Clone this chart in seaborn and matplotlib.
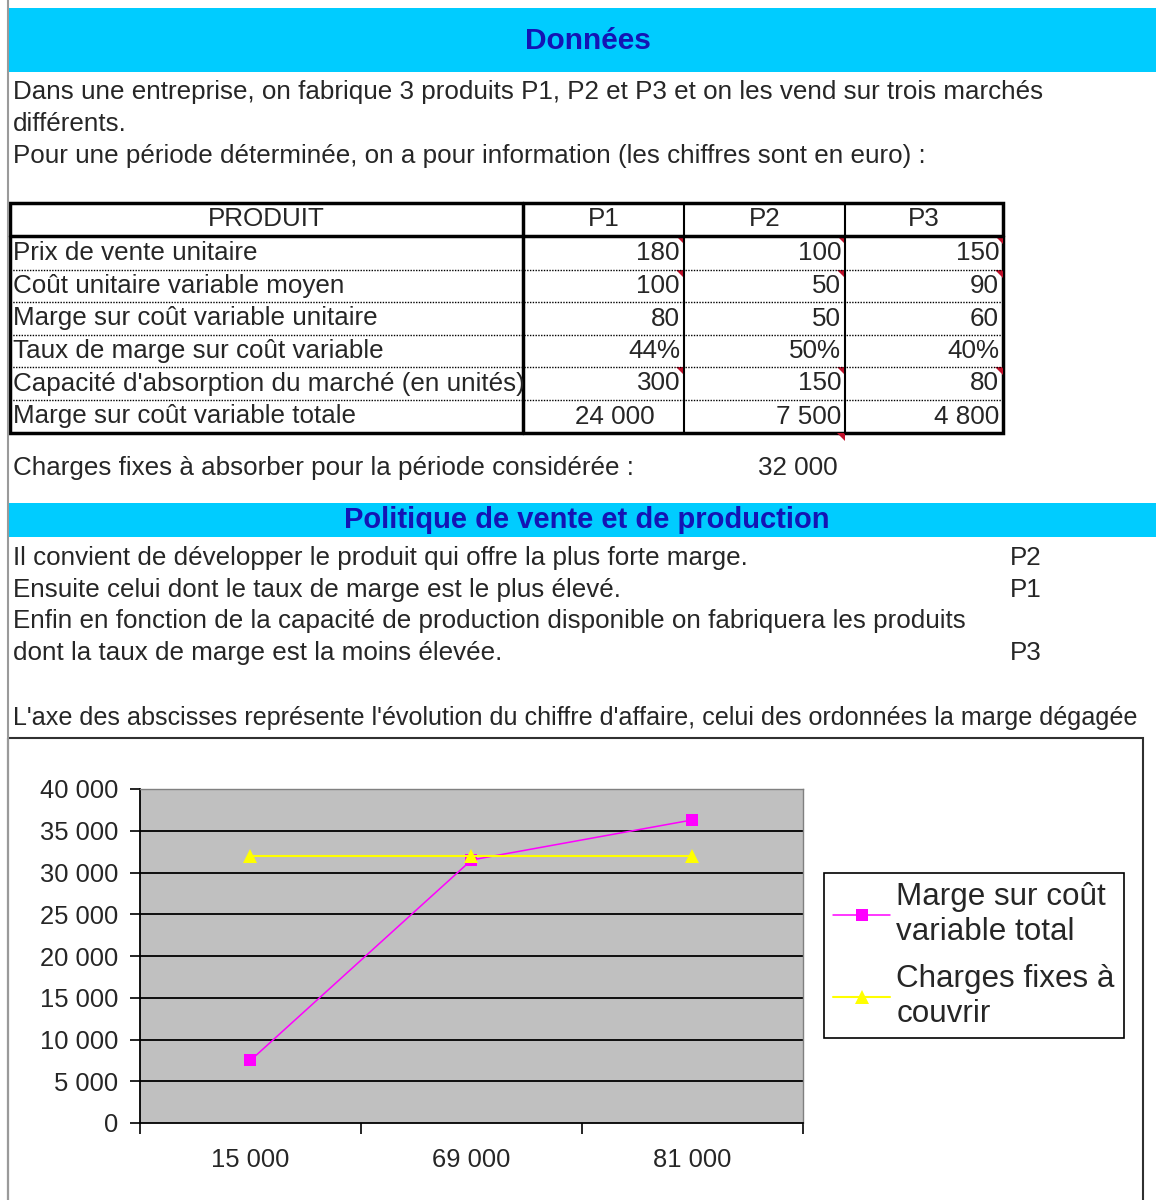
import numpy as np
import pandas as pd
import matplotlib
matplotlib.use("Agg")
import matplotlib.pyplot as plt
import seaborn as sns
from matplotlib.patches import Rectangle, Polygon
from matplotlib.ticker import FuncFormatter

sns.set_theme(style="white")
plt.rcParams['font.family'] = ['Liberation Sans', 'DejaVu Sans']

# ---------------- data ----------------
PRODUITS = ["P1", "P2", "P3"]
ROW_LABELS = ["Prix de vente unitaire",
              "Coût unitaire variable moyen",
              "Marge sur coût variable unitaire",
              "Taux de marge sur coût variable",
              "Capacité d'absorption du marché (en unités)",
              "Marge sur coût variable totale"]
PRIX = [180, 100, 150]
COUT = [100, 50, 90]
MARGE_U = [80, 50, 60]
TAUX = ["44%", "50%", "40%"]
CAPACITE = [300, 150, 80]
MARGE_TOT = [24000, 7500, 4800]
CHARGES_FIXES = 32000
INTRO = ["Dans une entreprise, on fabrique 3 produits P1, P2 et P3 et on les vend sur trois marchés",
         "différents.",
         "Pour une période déterminée, on a pour information (les chiffres sont en euro) :"]
POLITIQUE = ["Il convient de développer le produit qui offre la plus forte marge.",
             "Ensuite celui dont le taux de marge est le plus élevé.",
             "Enfin en fonction de la capacité de production disponible on fabriquera les produits",
             "dont la taux de marge est la moins élevée."]
ORDRE = ["P2", "P1", "", "P3"]
AXE_TXT = "L'axe des abscisses représente l'évolution du chiffre d'affaire, celui des ordonnées la marge dégagée"
CA_LABELS = ["15 000", "69 000", "81 000"]
MARGE_CUMUL = [7500, 31500, 36300]
CHARGES_SERIE = [32000, 32000, 32000]
SERIES = ["Marge sur coût\nvariable total", "Charges fixes à\ncouvrir"]


def fmt(v):
    return f"{v:,}".replace(",", " ")


W, H = 1156, 1200
fig = plt.figure(figsize=(W / 100, H / 100), dpi=100)
bg = fig.add_axes([0, 0, 1, 1])
bg.set_xlim(0, W)
bg.set_ylim(H, 0)
bg.axis("off")

BLUE = "#00CCFF"
NAVY = "#1414B4"
FS = 18.7

# left sheet border
bg.plot([8, 8], [0, H], color="#9a9a9a", lw=1.5)

# header bar
bg.add_patch(Rectangle((8, 8), W - 8, 64, color=BLUE, lw=0))
bg.text(588, 41, "Données", ha="center", va="center", fontsize=21.5,
        fontweight="bold", color=NAVY)

for i, t in enumerate(INTRO):
    bg.text(13, 92 + 32 * i, t, ha="left", va="center", fontsize=FS)

# table
cols = [10, 523, 684, 845, 1003]
rows = [203, 236, 270, 302, 335, 367, 400, 433]
bg.add_patch(Rectangle((cols[0], rows[0]), cols[-1] - cols[0], rows[-1] - rows[0],
                       fill=False, ec="black", lw=2.5))
bg.plot([cols[1], cols[1]], [rows[0], rows[-1]], color="black", lw=2.5)
for c in cols[2:4]:
    bg.plot([c, c], [rows[0], rows[-1]], color="black", lw=1.5)
bg.plot([cols[0], cols[-1]], [rows[1], rows[1]], color="black", lw=2.5)
for r in rows[2:-1]:
    bg.plot([cols[0], cols[-1]], [r, r], color="black", lw=1, ls=(0, (1, 1)))

bg.text((cols[0] + cols[1]) / 2, (rows[0] + rows[1]) / 2, "PRODUIT",
        ha="center", va="center", fontsize=FS)
for j, p in enumerate(PRODUITS):
    bg.text((cols[j + 1] + cols[j + 2]) / 2, (rows[0] + rows[1]) / 2, p,
            ha="center", va="center", fontsize=FS)

table_vals = [[str(v) for v in PRIX], [str(v) for v in COUT],
              [str(v) for v in MARGE_U], TAUX,
              [str(v) for v in CAPACITE], [fmt(v) for v in MARGE_TOT]]
for i, lab in enumerate(ROW_LABELS):
    yc = (rows[i + 1] + rows[i + 2]) / 2
    bg.text(13, yc, lab, ha="left", va="center", fontsize=FS)
    for j in range(3):
        xr = cols[j + 2] - 4
        if i == 5 and j == 0:
            xr = 655
        bg.text(xr, yc, table_vals[i][j], ha="right", va="center", fontsize=FS)

# red comment markers
tri = 8
for r in [rows[1], rows[2], rows[5]]:
    for c in cols[2:]:
        bg.add_patch(Polygon([[c - tri, r], [c, r], [c, r + tri]], closed=True,
                             color="#c0102a", lw=0))
bg.add_patch(Polygon([[cols[3] - tri, rows[-1]], [cols[3], rows[-1]],
                      [cols[3], rows[-1] + tri]], closed=True, color="#c0102a", lw=0))

bg.text(13, 468, "Charges fixes à absorber pour la période considérée :",
        ha="left", va="center", fontsize=FS)
bg.text(838, 468, fmt(CHARGES_FIXES), ha="right", va="center", fontsize=FS)

# second bar
bg.add_patch(Rectangle((8, 503), W - 8, 34, color=BLUE, lw=0))
bg.text(587, 520, "Politique de vente et de production", ha="center", va="center",
        fontsize=21, fontweight="bold", color=NAVY)

for i, (t, p) in enumerate(zip(POLITIQUE, ORDRE)):
    y = [558, 590, 621, 653][i]
    bg.text(13, y, t, ha="left", va="center", fontsize=FS)
    if p:
        bg.text(1010, y, p, ha="left", va="center", fontsize=FS)

bg.text(13, 718, AXE_TXT, ha="left", va="center", fontsize=18.1)

# chart frame
bg.add_patch(Rectangle((8, 738), 1135, 500, fill=False, ec="#303030", lw=1.5))

# ---------------- chart ----------------
L, R, T, B = 140, 803, 789, 1123
ax = fig.add_axes([L / W, 1 - B / H, (R - L) / W, (B - T) / H])
ax.set_facecolor("#C0C0C0")
xpos = np.arange(len(CA_LABELS))
df = pd.DataFrame({"x": np.concatenate([xpos, xpos]),
                   "y": MARGE_CUMUL + CHARGES_SERIE,
                   "serie": [SERIES[0]] * 3 + [SERIES[1]] * 3})

sns.lineplot(data=df[df.serie == SERIES[0]], x="x", y="y", ax=ax, color="#FF00FF",
             marker="s", markersize=8, markeredgewidth=0, lw=1.1, sort=False,
             label=SERIES[0], zorder=3)
sns.lineplot(data=df[df.serie == SERIES[1]], x="x", y="y", ax=ax, color="#FFFF00",
             marker="^", markersize=10, markeredgewidth=0, lw=1.5, sort=False,
             label=SERIES[1], zorder=4)

ax.set_xlim(-0.5, len(CA_LABELS) - 0.5)
ax.set_ylim(0, 40000)
ax.set_yticks(np.arange(0, 40001, 5000))
ax.yaxis.set_major_formatter(FuncFormatter(lambda v, p: fmt(int(v))))
ax.set_xticks(xpos)
ax.set_xticklabels(CA_LABELS)
ax.set_xticks(np.arange(-0.5, len(CA_LABELS)), minor=True)
ax.tick_params(axis="x", which="major", length=0, pad=18, labelsize=18.4)
ax.tick_params(axis="x", which="minor", length=8, width=1.2, color="black",
               direction="out", bottom=True)
ax.tick_params(axis="y", length=7, width=1.2, color="black", direction="out",
               pad=8.5, labelsize=18.4, left=True)
ax.set_xlabel("")
ax.set_ylabel("")
ax.grid(False)
for v in np.arange(5000, 40000, 5000):
    ax.axhline(v, color="black", lw=1.3, zorder=1)
for s in ["top", "right"]:
    ax.spines[s].set_color("#808080")
    ax.spines[s].set_linewidth(1)
for s in ["left", "bottom"]:
    ax.spines[s].set_color("black")
    ax.spines[s].set_linewidth(1.3)

handles, labels = ax.get_legend_handles_labels()
leg = ax.legend(handles, labels, loc="upper left",
                bbox_to_anchor=(824 / W, 1 - 873 / H), bbox_transform=fig.transFigure,
                borderaxespad=0, fontsize=22.6, frameon=True, fancybox=False,
                edgecolor="black", framealpha=1, facecolor="white",
                handlelength=1.8, handletextpad=0.2, labelspacing=0.55,
                borderpad=0.3)
leg.get_frame().set_linewidth(1.2)

fig.savefig("out.png", dpi=100)
